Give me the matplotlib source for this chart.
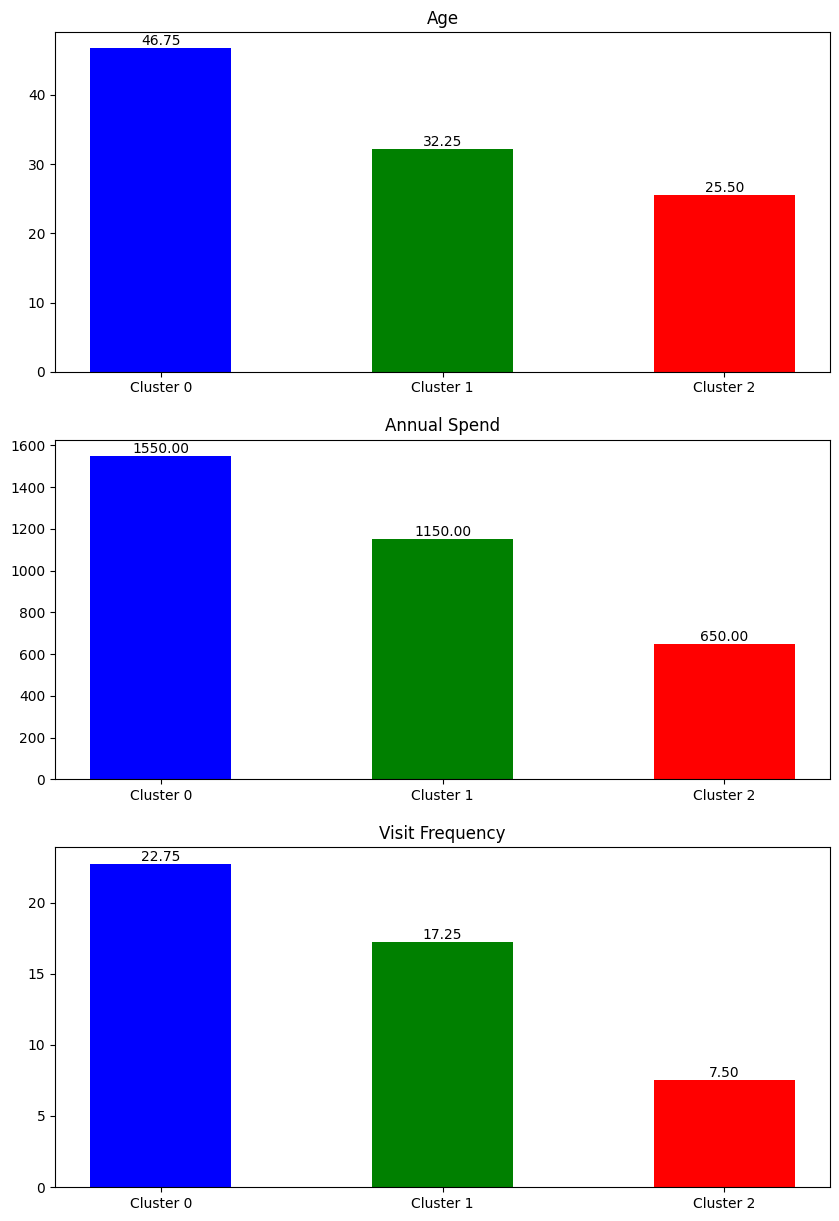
import matplotlib
matplotlib.use('Agg')
import matplotlib.pyplot as plt

# cluster means
clusters = ['Cluster 0', 'Cluster 1', 'Cluster 2']
age = [46.75, 32.25, 25.50]
annual_spend = [1550.00, 1150.00, 650.00]
visit_freq = [22.75, 17.25, 7.50]
titles = ['Age', 'Annual Spend', 'Visit Frequency']
colors = ['blue', 'green', 'red']

fig, axes = plt.subplots(3, 1, figsize=(8.39, 12.21), dpi=100)
plt.subplots_adjust(left=0.0656, right=0.9893, top=0.9738, bottom=0.0278, hspace=0.2)

for ax, vals, title in zip(axes, [age, annual_spend, visit_freq], titles):
    bars = ax.bar(clusters, vals, color=colors, width=0.5)
    ax.set_title(title)
    for b in bars:
        h = b.get_height()
        ax.text(b.get_x() + b.get_width() / 2, h, f'{h:.2f}', ha='center', va='bottom')

plt.savefig('out.png')
